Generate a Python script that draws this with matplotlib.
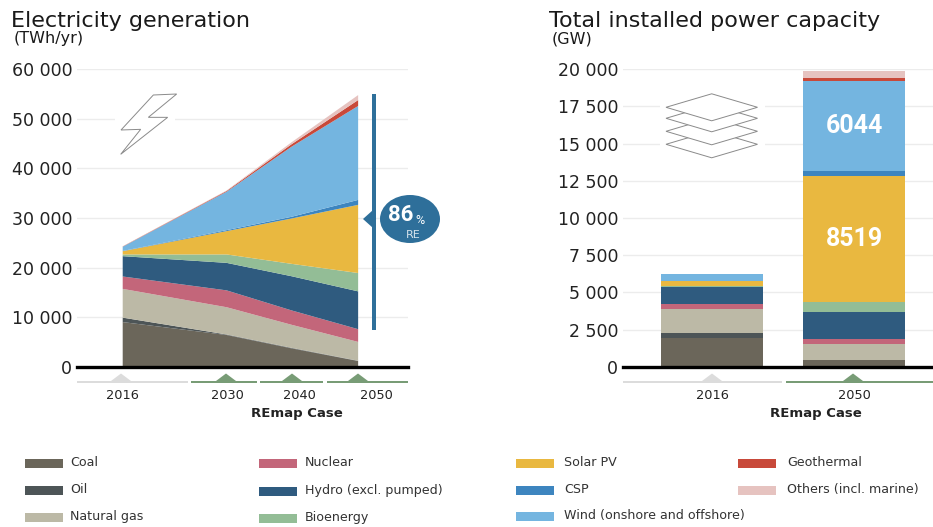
import matplotlib
matplotlib.use("Agg")
import matplotlib.pyplot as plt
from matplotlib.patches import Ellipse, Polygon, Rectangle
import numpy as np

plt.rcParams['font.family'] = ['DejaVu Sans']
narrow = ['Liberation Sans Narrow', 'Roboto']

W, H = 933, 527

techs = ["Coal", "Oil", "Natural gas", "Nuclear", "Hydro (excl. pumped)", "Bioenergy",
         "Solar PV", "CSP", "Wind (onshore and offshore)", "Geothermal", "Others (incl. marine)"]
colors = ["#6b665a", "#4d5557", "#bcb9a6", "#c3667a", "#2f5b7f", "#93bd96",
          "#e9b840", "#3d85bf", "#74b5e0", "#c8493a", "#e6c3c0"]

gen_years = [2016, 2031, 2040.4, 2050]
gen_tops = [
    [9000, 6400, 3700, 1150],
    [9900, 6500, 3800, 1200],
    [15700, 12000, 8450, 5000],
    [18200, 15400, 11350, 7570],
    [22300, 20950, 18250, 15200],
    [22650, 22650, 20750, 18900],
    [23300, 27350, 29900, 32650],
    [23350, 27550, 30250, 33650],
    [24200, 35300, 44400, 52600],
    [24250, 35450, 44900, 53800],
    [24300, 35550, 45300, 54800],
]
gen_ticks = [0, 10000, 20000, 30000, 40000, 50000, 60000]
gen_ticklabels = ["0", "10 000", "20 000", "30 000", "40 000", "50 000", "60 000"]
gen_xlabels = ["2016", "2030", "2040", "2050"]
gen_xlabel_pos = [2015.9, 2031.1, 2041.5, 2052.6]

# capacity, GW
cap_labels = ["2016", "2050"]
cap_2016 = [1900, 340, 1610, 380, 1120, 70, 340, 10, 460, 5, 5]
cap_2050 = [450, 20, 1030, 340, 1810, 670, 8519, 340, 6044, 180, 495]
cap_ticks = [0, 2500, 5000, 7500, 10000, 12500, 15000, 17500, 20000]
cap_ticklabels = ["0", "2 500", "5 000", "7 500", "10 000", "12 500", "15 000", "17 500", "20 000"]

fig = plt.figure(figsize=(W / 100, H / 100), dpi=100)


def make_axes(x0, x1, ymax, ticks, ticklabels):
    ax = fig.add_axes([x0 / W, (H - 366.7) / H, (x1 - x0) / W, 297.4 / H])
    ax.set_ylim(0, ymax)
    ax.set_yticks(ticks, ticklabels)
    ax.tick_params(axis='both', length=0, labelsize=12.5, labelcolor="#222222")
    ax.tick_params(axis='y', pad=3.5)
    ax.tick_params(axis='x', pad=16, labelsize=9.3)
    for s in ax.spines.values():
        s.set_visible(False)
    ax.spines['bottom'].set_visible(True)
    ax.spines['bottom'].set_linewidth(2.4)
    ax.spines['bottom'].set_color("black")
    ax.spines['bottom'].set_zorder(5)
    ax.grid(axis='y', color="#ececec", lw=1)
    ax.set_axisbelow(True)
    return ax


# left panel
ax1 = make_axes(77, 408, 60000, gen_ticks, gen_ticklabels)
tops = np.array(gen_tops)
layers = np.vstack([tops[0], np.diff(tops, axis=0)])
ax1.stackplot(gen_years, layers, colors=colors, lw=0)
ax1.set_xlim(2009.4, 2057.2)
ax1.set_xticks(gen_xlabel_pos, gen_xlabels)

# right panel
ax2 = make_axes(623, 933, 20000, cap_ticks, cap_ticklabels)
bottom = np.zeros(2)
for i in range(len(techs)):
    vals = np.array([cap_2016[i], cap_2050[i]])
    ax2.bar([0, 1], vals, 0.718, bottom=bottom, color=colors[i], lw=0)
    bottom = bottom + vals
ax2.set_xlim(-0.627, 1.556)
ax2.set_xticks([0, 1], cap_labels)
ax2.text(1, sum(cap_2050[:8]) + cap_2050[8] / 2, str(cap_2050[8]),
         color="white", ha='center', va='center', fontsize=18, fontweight='bold', family=narrow)
ax2.text(1, sum(cap_2050[:6]) + cap_2050[6] / 2, str(cap_2050[6]),
         color="white", ha='center', va='center', fontsize=18, fontweight='bold', family=narrow)

# overlay in picture pixels for titles, icons, legend
ov = fig.add_axes([0, 0, 1, 1], zorder=10)
ov.set_xlim(0, W)
ov.set_ylim(H, 0)
ov.axis('off')
ov.patch.set_alpha(0)

ov.text(11, 21, "Electricity generation", fontsize=16, va='center', color="#1a1a1a")
ov.text(14, 39, "(TWh/yr)", fontsize=11.5, va='center', color="#1a1a1a")
ov.text(549, 21, "Total installed power capacity", fontsize=16, va='center', color="#1a1a1a")
ov.text(552, 39, "(GW)", fontsize=11.5, va='center', color="#1a1a1a")

# category bands under the axes
grey, green = "#dcdcdc", "#789c76"
for x0, x1, c in [(77, 188, grey), (191, 257, green), (260, 323, green), (327, 408, green),
                  (623, 782, grey), (786, 933, green)]:
    ov.add_patch(Rectangle((x0, 380.5), x1 - x0, 2.6, color=c, lw=0))
for xc, c in [(121, grey), (226, green), (292, green), (358, green), (712, grey), (853, green)]:
    ov.add_patch(Polygon([(xc - 10, 381), (xc, 373.5), (xc + 10, 381)], color=c, lw=0))

ov.text(297, 413, "REmap Case", fontsize=9.5, fontweight='bold', ha='center', va='center', color="#222222")
ov.text(816, 414, "REmap Case", fontsize=9.5, fontweight='bold', ha='center', va='center', color="#222222")

# lightning icon
ov.add_patch(Rectangle((115, 90), 60, 68, color="white", lw=0))
bolt = np.array([(460, 285), (530, 282), (445, 352), (503, 352), (362, 463), (422, 388), (363, 390)]) / 3
ov.add_patch(Polygon(bolt, closed=True, fc="white", ec="#8a8a8a", lw=0.7))

# layers icon
ov.add_patch(Rectangle((660, 90), 105, 70, color="white", lw=0))
for yc in [144.3, 131.3, 118.3, 107.3]:
    ov.add_patch(Polygon([(666, yc), (711.7, yc - 13.5), (757.5, yc), (711.7, yc + 13.5)],
                         closed=True, fc="white", ec="#8a8a8a", lw=0.7))

# RE share marker
blue = "#2e6f9a"
ov.add_patch(Rectangle((372, 94), 3.6, 236, color=blue, lw=0))
ov.add_patch(Polygon([(363, 219), (373, 210), (373, 228)], color=blue, lw=0))
ov.add_patch(Ellipse((410, 219), 60, 48, color=blue, lw=0))
ov.text(401, 215, "86", color="white", fontsize=16, fontweight='bold', ha='center', va='center', family=narrow)
ov.text(420, 220, "%", color="white", fontsize=9, ha='center', va='center', family=narrow)
ov.text(413, 234.5, "RE", color="#d5e3ec", fontsize=8, ha='center', va='center')

# legend
leg_x = [25, 25, 25, 259, 259, 259, 516, 516, 516, 738, 738]
leg_text_x = [70, 70, 70, 305, 305, 305, 564, 564, 564, 787, 787]
leg_y = [463, 490, 517, 463, 491, 518, 463, 490, 516, 463, 490]
for i, t in enumerate(techs):
    ov.add_patch(Rectangle((leg_x[i], leg_y[i] - 4.5), 38, 9, color=colors[i], lw=0))
    ov.text(leg_text_x[i], leg_y[i] - 0.5, t, fontsize=9.1, va='center', color="#333333")

fig.savefig("out.png", dpi=100)
